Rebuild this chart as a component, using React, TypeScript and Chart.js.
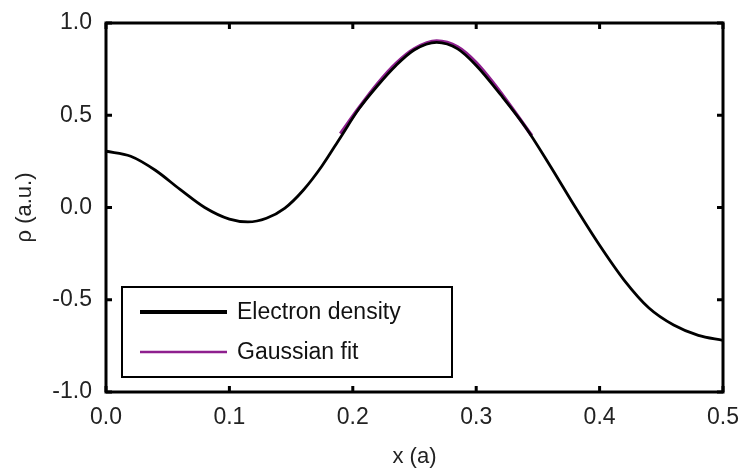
import React, { useEffect, useRef } from "react";
import { Chart, registerables } from "chart.js";

Chart.register(...registerables);

const densityX = [0, 0.02, 0.04, 0.06, 0.08, 0.1, 0.115, 0.13, 0.145, 0.16, 0.175, 0.19, 0.205, 0.22, 0.235, 0.25, 0.268, 0.285, 0.3, 0.32, 0.34, 0.36, 0.38, 0.4, 0.42, 0.44, 0.46, 0.48, 0.5];
const densityY = [0.305, 0.278, 0.202, 0.098, 0.0, -0.063, -0.078, -0.058, -0.003, 0.095, 0.225, 0.38, 0.535, 0.66, 0.77, 0.855, 0.895, 0.86, 0.77, 0.61, 0.435, 0.225, 0.005, -0.205, -0.395, -0.545, -0.637, -0.693, -0.72];

const fitX = [0.19, 0.205, 0.22, 0.235, 0.25, 0.268, 0.285, 0.3, 0.315, 0.33, 0.345];
const fitY = [0.40, 0.54, 0.67, 0.78, 0.86, 0.902, 0.87, 0.785, 0.665, 0.53, 0.39];

const xTicks = [0, 0.1, 0.2, 0.3, 0.4, 0.5];
const yTicks = [-1, -0.5, 0, 0.5, 1];

const seriesLabels = ["Electron density", "Gaussian fit"];
const seriesColors = ["#000000", "#8e1f8e"];

const FONT = "Arial, 'Liberation Sans', sans-serif";

const framePlugin = {
  id: "frameTicks",
  afterDatasetsDraw(chart: any) {
    const { ctx, chartArea } = chart;
    const { left, right, top, bottom } = chartArea;
    const xs = chart.scales.x;
    const ys = chart.scales.y;
    ctx.save();
    ctx.strokeStyle = "#000";
    ctx.lineWidth = 3;
    ctx.strokeRect(left, top, right - left, bottom - top);
    const tl = 6;
    ctx.beginPath();
    xTicks.forEach((v) => {
      const px = xs.getPixelForValue(v);
      ctx.moveTo(px, bottom);
      ctx.lineTo(px, bottom - tl);
      ctx.moveTo(px, top);
      ctx.lineTo(px, top + tl);
    });
    yTicks.forEach((v) => {
      const py = ys.getPixelForValue(v);
      ctx.moveTo(left, py);
      ctx.lineTo(left + tl, py);
      ctx.moveTo(right, py);
      ctx.lineTo(right - tl, py);
    });
    ctx.stroke();

    // legend box
    const bx = 122, by = 287, bw = 330, bh = 90;
    ctx.fillStyle = "#fff";
    ctx.fillRect(bx, by, bw, bh);
    ctx.lineWidth = 2;
    ctx.strokeStyle = "#000";
    ctx.strokeRect(bx, by, bw, bh);
    const rows = [312, 352];
    const widths = [4, 2.5];
    ctx.font = `23px ${FONT}`;
    ctx.textBaseline = "middle";
    ctx.textAlign = "left";
    chart.data.datasets.forEach((ds: any, i: number) => {
      ctx.beginPath();
      ctx.strokeStyle = ds.borderColor;
      ctx.lineWidth = widths[i];
      ctx.moveTo(140, rows[i]);
      ctx.lineTo(227, rows[i]);
      ctx.stroke();
      ctx.fillStyle = "#111";
      ctx.fillText(ds.label, 237, rows[i] + 1);
    });
    ctx.restore();
  },
};

export default function App() {
  const ref = useRef<HTMLCanvasElement>(null);
  useEffect(() => {
    if (!ref.current) return;
    const chart = new Chart(ref.current, {
      type: "scatter",
      data: {
        datasets: [
          {
            label: seriesLabels[0],
            data: densityX.map((x, i) => ({ x, y: densityY[i] })),
            showLine: true,
            borderColor: seriesColors[0],
            borderWidth: 2.8,
            pointRadius: 0,
            cubicInterpolationMode: "monotone",
          },
          {
            label: seriesLabels[1],
            data: fitX.map((x, i) => ({ x, y: fitY[i] })),
            showLine: true,
            borderColor: seriesColors[1],
            borderWidth: 3.5,
            pointRadius: 0,
            cubicInterpolationMode: "monotone",
          },
        ],
      },
      options: {
        animation: false,
        responsive: false,
        maintainAspectRatio: false,
        layout: { padding: { left: 0, right: 20, top: 23, bottom: 0 } },
        plugins: { legend: { display: false }, tooltip: { enabled: false } },
        scales: {
          x: {
            type: "linear",
            min: 0,
            max: 0.5,
            afterBuildTicks: (s: any) => {
              s.ticks = xTicks.map((v) => ({ value: v }));
            },
            afterFit: (s: any) => {
              s.height = 78;
              s.paddingLeft = 0;
              s.paddingRight = 0;
            },
            grid: { display: false, drawTicks: false },
            border: { display: false },
            ticks: {
              padding: 12,
              color: "#222",
              font: { family: FONT, size: 23 },
              callback: (v: any) => Number(v).toFixed(1),
            },
            title: {
              display: true,
              text: "x (a)",
              color: "#222",
              font: { family: FONT, size: 22 },
              padding: { top: 0, bottom: 0 },
            },
          },
          y: {
            type: "linear",
            min: -1,
            max: 1,
            afterBuildTicks: (s: any) => {
              s.ticks = yTicks.map((v) => ({ value: v }));
            },
            afterFit: (s: any) => {
              s.width = 106;
              s.paddingTop = 0;
              s.paddingBottom = 0;
            },
            grid: { display: false, drawTicks: false },
            border: { display: false },
            ticks: {
              padding: 14,
              color: "#222",
              font: { family: FONT, size: 23 },
              callback: (v: any) => Number(v).toFixed(1),
            },
            title: {
              display: true,
              text: "ρ (a.u.)",
              color: "#222",
              font: { family: FONT, size: 22 },
              padding: { top: 12, bottom: 0 },
            },
          },
        },
      },
      plugins: [framePlugin],
    });
    return () => chart.destroy();
  }, []);
  return (
    <div style={{ position: "fixed", left: 0, top: 0, width: 743, height: 470, background: "#fff" }}>
      <canvas ref={ref} width={743} height={470} style={{ width: 743, height: 470 }} />
    </div>
  );
}
